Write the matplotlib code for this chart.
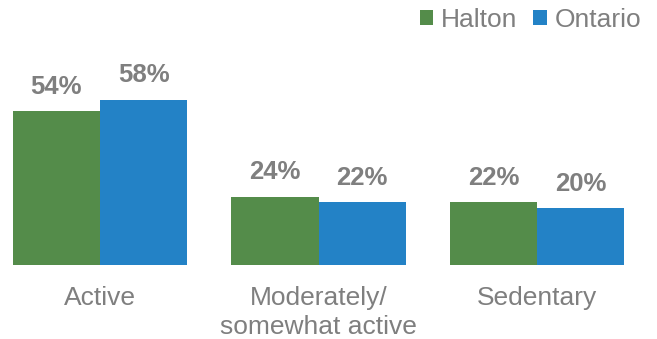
import matplotlib
matplotlib.use("Agg")
import matplotlib.pyplot as plt
import numpy as np

categories = ["Active", "Moderately/\nsomewhat active", "Sedentary"]
series_names = ["Halton", "Ontario"]
halton = [54, 24, 22]
ontario = [58, 22, 20]

green = "#548C4A"
blue = "#2382C6"
gray = "#7F7F7F"

plt.rcParams["font.family"] = ["Liberation Sans", "DejaVu Sans"]

fig = plt.figure(figsize=(6.57, 3.39), dpi=100)
ax = fig.add_axes([0, 1 - 265 / 339, 1, 265 / 339])

x = np.arange(len(categories))
w = 0.4
b1 = ax.bar(x - w / 2, halton, w, color=green, label=series_names[0])
b2 = ax.bar(x + w / 2, ontario, w, color=blue, label=series_names[1])

for bars, vals in ((b1, halton), (b2, ontario)):
    for rect, v in zip(bars, vals):
        ax.annotate(f"{v}%", (rect.get_x() + rect.get_width() / 2, v),
                    xytext=(0, 9), textcoords="offset points",
                    ha="center", va="bottom", fontsize=18.5,
                    fontweight="bold", color=gray)

ax.set_xlim(-0.458, 2.549)
ax.set_ylim(0, 93.1)
ax.set_xticks(x)
ax.set_xticklabels(categories, fontsize=19, color=gray, linespacing=1.25)
ax.tick_params(axis="x", length=0, pad=15)
ax.set_yticks([])
for s in ax.spines.values():
    s.set_visible(False)

leg = ax.legend(loc="upper right", bbox_to_anchor=(1.0, 1.03), ncol=2,
                frameon=False, fontsize=19, handlelength=0.5,
                handleheight=0.5, handletextpad=0.3, columnspacing=0.6,
                borderaxespad=0.2)
for t in leg.get_texts():
    t.set_color(gray)

fig.savefig("out.png", dpi=100)
